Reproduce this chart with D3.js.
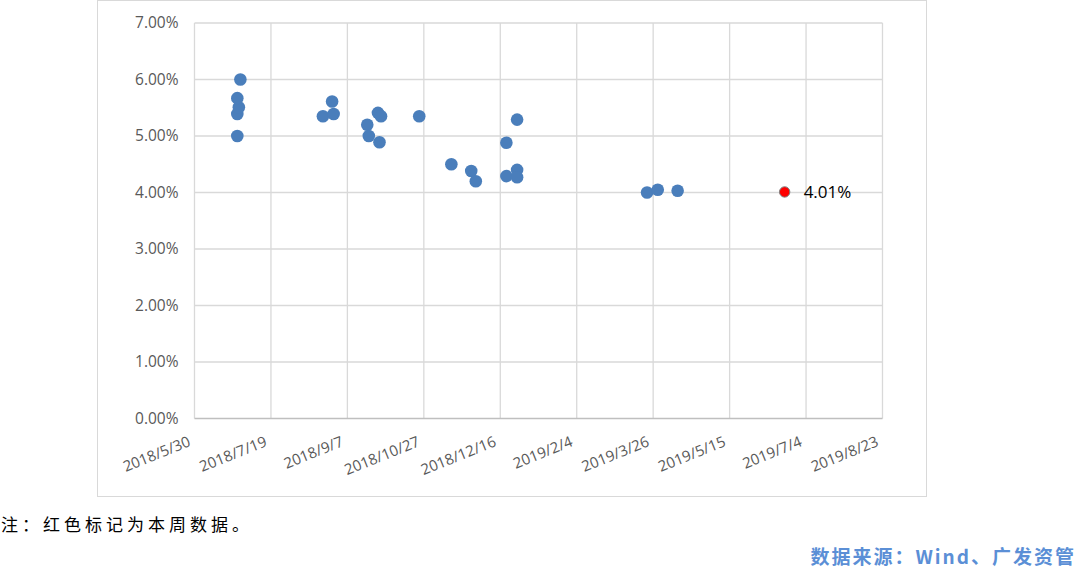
<!DOCTYPE html>
<html>
<head>
<meta charset="utf-8">
<script src="https://cdn.jsdelivr.net/npm/d3@7"></script>
<style>
  body { margin: 0; background: #fff; }
  svg { display: block; }
</style>
</head>
<body>
<svg id="chart" width="1080" height="575"></svg>
<script>
// past weeks (blue) - date, yield %
var dates = ["2018-06-27", "2018-06-27", "2018-06-28", "2018-06-27", "2018-06-29",
             "2018-08-22", "2018-08-28", "2018-08-29",
             "2018-09-20", "2018-09-21", "2018-09-27", "2018-09-29", "2018-09-28",
             "2018-10-24", "2018-11-14", "2018-11-27", "2018-11-30",
             "2018-12-20", "2018-12-20", "2018-12-27", "2018-12-27", "2018-12-27",
             "2019-03-22", "2019-03-29", "2019-04-11"];
var yields = [5.00, 5.39, 5.51, 5.67, 6.00,
              5.35, 5.61, 5.39,
              5.20, 5.00, 5.41, 5.35, 4.89,
              5.35, 4.50, 4.38, 4.20,
              4.88, 4.29, 5.29, 4.40, 4.27,
              4.00, 4.05, 4.03];

// this week (red)
var currentDate = ["2019-06-20"];
var currentYield = [4.01];

var xTickLabels = ["2018/5/30", "2018/7/19", "2018/9/7", "2018/10/27", "2018/12/16",
                   "2019/2/4", "2019/3/26", "2019/5/15", "2019/7/4", "2019/8/23"];
var yTicks = [0, 1, 2, 3, 4, 5, 6, 7];

var svg = d3.select("#chart");
var parseDash = d3.timeParse("%Y-%m-%d");
var parseSlash = d3.timeParse("%Y/%m/%d");

var plotL = 194.5, plotR = 882.5, plotT = 23, plotB = 418.5;

var x = d3.scaleTime()
    .domain([parseSlash(xTickLabels[0]), parseSlash(xTickLabels[xTickLabels.length - 1])])
    .range([plotL, plotR]);
var y = d3.scaleLinear().domain([0, 7]).range([plotB, plotT]);

// outer frame
svg.append("rect")
    .attr("x", 97.5).attr("y", 0.5)
    .attr("width", 829).attr("height", 496)
    .attr("fill", "none")
    .attr("stroke", "#d9d9d9")
    .attr("stroke-width", 1);

// grid
svg.append("g").selectAll("line")
    .data(yTicks.slice(1))
    .enter().append("line")
    .attr("x1", plotL).attr("x2", plotR)
    .attr("y1", function(d) { return y(d); })
    .attr("y2", function(d) { return y(d); })
    .attr("stroke", "#d9d9d9").attr("stroke-width", 1.3);

svg.append("g").selectAll("line")
    .data(xTickLabels)
    .enter().append("line")
    .attr("x1", function(d) { return x(parseSlash(d)); })
    .attr("x2", function(d) { return x(parseSlash(d)); })
    .attr("y1", plotT).attr("y2", plotB)
    .attr("stroke", "#d9d9d9").attr("stroke-width", 1.3);

// x axis baseline
svg.append("line")
    .attr("x1", plotL).attr("x2", plotR)
    .attr("y1", plotB).attr("y2", plotB)
    .attr("stroke", "#bfbfbf").attr("stroke-width", 1.3);

// y labels
svg.append("g").selectAll("text")
    .data(yTicks)
    .enter().append("text")
    .attr("x", plotL - 16)
    .attr("y", function(d) { return y(d); })
    .attr("dy", "0.35em")
    .attr("text-anchor", "end")
    .attr("font-family", "Open Sans, sans-serif")
    .attr("font-size", 15.5)
    .attr("fill", "#595959")
    .text(function(d) { return d3.format(".2f")(d) + "%"; });

// x labels, rotated
svg.append("g").selectAll("text")
    .data(xTickLabels)
    .enter().append("text")
    .attr("transform", function(d) {
      return "translate(" + (x(parseSlash(d)) - 3) + "," + (plotB + 27) + ") rotate(-22)";
    })
    .attr("text-anchor", "end")
    .attr("font-family", "Open Sans, sans-serif")
    .attr("font-size", 15)
    .attr("fill", "#595959")
    .text(function(d) { return d; });

// points
var pts = dates.map(function(d, i) { return { date: parseDash(d), v: yields[i] }; });

svg.append("g").selectAll("circle")
    .data(pts)
    .enter().append("circle")
    .attr("cx", function(d) { return x(d.date); })
    .attr("cy", function(d) { return y(d.v); })
    .attr("r", 6.3)
    .attr("fill", "#4a7ebb");

var cur = currentDate.map(function(d, i) { return { date: parseDash(d), v: currentYield[i] }; });

svg.append("g").selectAll("circle")
    .data(cur)
    .enter().append("circle")
    .attr("cx", function(d) { return x(d.date); })
    .attr("cy", function(d) { return y(d.v); })
    .attr("r", 5.2)
    .attr("fill", "#ff0000")
    .attr("stroke", "#7f7f7f")
    .attr("stroke-width", 1);

svg.append("g").selectAll("text")
    .data(cur)
    .enter().append("text")
    .attr("x", function(d) { return x(d.date) + 19; })
    .attr("y", function(d) { return y(d.v); })
    .attr("dy", "0.35em")
    .attr("font-family", "Open Sans, sans-serif")
    .attr("font-size", 17)
    .attr("fill", "#000")
    .text(function(d) { return d3.format(".2f")(d.v) + "%"; });

// notes
svg.append("text")
    .attr("x", 1).attr("y", 531)
    .attr("font-family", "Noto Sans CJK SC, sans-serif")
    .attr("font-size", 17)
    .attr("letter-spacing", 4)
    .attr("fill", "#000")
    .text("注：红色标记为本周数据。");

svg.append("text")
    .attr("x", 1076).attr("y", 564)
    .attr("text-anchor", "end")
    .attr("font-family", "Noto Sans CJK SC, sans-serif")
    .attr("font-size", 19)
    .attr("letter-spacing", 2)
    .attr("font-weight", "bold")
    .attr("fill", "#5b8fd6")
    .text("数据来源：Wind、广发资管");
</script>
</body>
</html>
